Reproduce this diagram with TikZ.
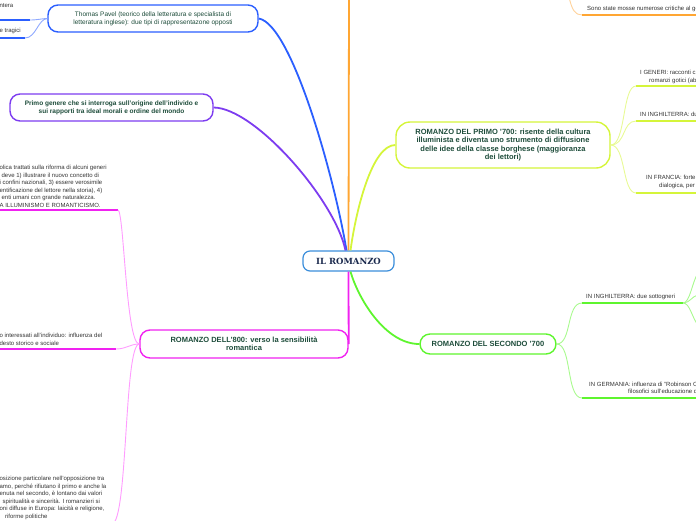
\documentclass[tikz,border=0pt]{standalone}
\usepackage{fontspec}
\setmainfont{Liberation Sans}
\newfontfamily\rootfont{DejaVu Serif}
\definecolor{RootBlue}{HTML}{3B8EDB}
\definecolor{RootInk}{HTML}{1B2A4E}
\definecolor{TopicInk}{HTML}{1E4D3B}
\definecolor{LeafInk}{HTML}{333333}
\definecolor{PavelBlue}{HTML}{2B5FFF}
\definecolor{PavelSoft}{HTML}{8FA9FF}
\definecolor{GenusPurple}{HTML}{7D3CF0}
\definecolor{CritOrange}{HTML}{FFA633}
\definecolor{CritSoft}{HTML}{FFD29A}
\definecolor{LimeYellow}{HTML}{D5F53A}
\definecolor{LimeSoft}{HTML}{E8FA95}
\definecolor{BrightGreen}{HTML}{5EF52E}
\definecolor{GreenSoft}{HTML}{A9FA8F}
\definecolor{Magenta}{HTML}{F022F0}
\definecolor{MagentaSoft}{HTML}{FF9CFF}
\usetikzlibrary{positioning}

\begin{document}
\begin{tikzpicture}[x=1pt,y=-1pt,
    topic/.style={draw,line width=1.4pt,rounded corners=10pt,fill=white,inner sep=0pt,align=center,text=TopicInk,font=\bfseries\fontsize{7.5}{8.3}\selectfont},
    leaf/.style={inner sep=0pt,align=left,anchor=west,text=LeafInk,font=\fontsize{6}{7.5}\selectfont},
    branch/.style={line width=1.8pt},
    twig/.style={line width=0.9pt},
    rule/.style={line width=2.4pt}
  ]
    \useasboundingbox (0,0) rectangle (696,520);
    \clip (0,0) rectangle (696,520);

    % main topics
    \node[draw=RootBlue,line width=1.2pt,rounded corners=7pt,fill=white,minimum width=91pt,minimum height=20pt,inner sep=0pt,text=RootInk,font=\rootfont\bfseries\fontsize{8.5}{10}\selectfont] (root) at (348.5,261) {IL ROMANZO};
    \node[topic,draw=PavelBlue,font=\fontsize{6.5}{8}\selectfont,minimum width=210pt,minimum height=27pt] (pavel) at (153,18.5) {Thomas Pavel (teorico della letteratura e specialista di\\letteratura inglese): due tipi di rappresentazone opposti};
    \node[topic,draw=GenusPurple,font=\bfseries\fontsize{6.5}{8}\selectfont,minimum width=203pt,minimum height=27pt] (genere) at (111.5,107.5) {Primo genere che si interroga sull'origine dell'individo e\\sui rapporti tra ideal morali e ordine del mondo};
    \node[topic,draw=LimeYellow,rounded corners=14pt,minimum width=214pt,minimum height=46pt] (primo) at (503,145) {ROMANZO DEL PRIMO '700: risente della cultura\\illuminista e diventa uno strumento di diffusione\\delle idee della classe borghese (maggioranza\\dei lettori)};
    \node[topic,draw=Magenta,minimum width=208pt,minimum height=28pt] (ottocento) at (244,344) {ROMANZO DELL'800: verso la sensibilità\\romantica};
    \node[topic,draw=BrightGreen,minimum width=136pt,minimum height=20pt] (secondo) at (488,344) {ROMANZO DEL SECONDO '700};

    % branches from the root
    \coordinate (critup) at (349,-4);
    \draw[branch,CritOrange] (root.north) -- (critup);
    \draw[branch,PavelBlue] ([xshift=-2pt]root.north) .. controls (335,180) and (292,24) .. (pavel.east);
    \draw[branch,GenusPurple] ([xshift=-3pt]root.north) .. controls (335,200) and (255,108) .. (genere.east);
    \draw[branch,LimeYellow] ([xshift=2pt]root.north) .. controls (356,210) and (372,145) .. (primo.west);
    \draw[branch,BrightGreen] ([xshift=2pt]root.south) .. controls (358,298) and (385,344) .. (secondo.west);
    \draw[branch,Magenta] (root.south) -- (ottocento.east);

    % Pavel leaves
    \node[leaf] (pv1) at (-0.6,5.5) {ntera};
    \node[leaf] (pv2) at (-0.6,31) {e tragici};
    \coordinate (pv1l) at (-3,20); \coordinate (pv1r) at (30,20);
    \coordinate (pv2l) at (-3,38); \coordinate (pv2r) at (25,38);
    \draw[rule,PavelBlue] (pv1l) -- (pv1r);
    \draw[rule,PavelBlue] (pv2l) -- (pv2r);
    \draw[twig,PavelSoft] (pv1r) .. controls (38,20) and (42,18.5) .. (pavel.west);
    \draw[twig,PavelSoft] (pv2r) .. controls (36,38) and (38,19) .. (pavel.west);

    % ottocento leaves
    \node[leaf] (ot1) at (-0.6,186.5) {olica trattati sulla riforma di alcuni generi\\\hspace*{2pt}deve 1) illustrare il nuovo concetto di\\i confini nazionali, 3) essere verosimile\\entificazione del lettore nella storia), 4)\\\hspace*{2pt}enti umani con grande naturalezza.\\A ILLUMINISMO E ROMANTICISMO.};
    \node[leaf] (ot2) at (-0.6,339.5) {o interessati all'individuo: influenza del\\desto storico e sociale};
    \node[leaf] (ot3) at (-0.6,498) {osizione particolare nell'opposizione tra\\amo, perché rifiutano il primo e anche la\\enuta nel secondo, è lontano dai valori\\\hspace*{3pt}spiritualità e sincerità. I romanzieri si\\oni diffuse in Europa: laicità e religione,\\\hspace*{5.5pt}riforme politiche};
    \coordinate (ot1l) at (-3,210); \coordinate (ot1r) at (118,210);
    \coordinate (ot2l) at (-3,349); \coordinate (ot2r) at (116,349);
    \coordinate (ot3l) at (-3,524); \coordinate (ot3r) at (112,524);
    \draw[rule,Magenta] (ot1l) -- (ot1r);
    \draw[rule,Magenta] (ot2l) -- (ot2r);
    \draw[rule,Magenta] (ot3l) -- (ot3r);
    \draw[twig,MagentaSoft] (ottocento.west) .. controls (126,344) and (124,211) .. (ot1r);
    \draw[twig,MagentaSoft] (ottocento.west) .. controls (130,344) and (126,349) .. (ot2r);
    \draw[twig,MagentaSoft] (ottocento.west) .. controls (124,344) and (128,522) .. (ot3r);

    % critiche leaf (topic above the page)
    \coordinate (critiche) at (569,-3);
    \coordinate (crl) at (582,15); \coordinate (crr) at (699,15);
    \draw[twig,CritSoft] (critiche) .. controls (572,10) and (575,15) .. (crl);
    \draw[rule,CritOrange] (crl) -- (crr);
    \node[leaf] (cr1) at (587,9) {Sono state mosse numerose critiche al ge};

    % primo '700 leaves
    \node[leaf] (pr1) at (640,77) {I GENERI: racconti c\\\hspace*{9pt}romanzi gotici (ab};
    \node[leaf] (pr2) at (640,114) {IN INGHILTERRA: du};
    \node[leaf] (pr3) at (646,182) {IN FRANCIA: forte\\\hspace*{13pt}dialogica, per};
    \coordinate (pr1l) at (636,86); \coordinate (pr1r) at (699,86);
    \coordinate (pr2l) at (636,121); \coordinate (pr2r) at (699,121);
    \coordinate (pr3l) at (636,193); \coordinate (pr3r) at (699,193);
    \draw[rule,LimeYellow] (pr1l) -- (pr1r);
    \draw[rule,LimeYellow] (pr2l) -- (pr2r);
    \draw[rule,LimeYellow] (pr3l) -- (pr3r);
    \draw[twig,LimeSoft] (primo.east) .. controls (626,145) and (622,86) .. (pr1l);
    \draw[twig,LimeSoft] (primo.east) .. controls (626,145) and (622,121) .. (pr2l);
    \draw[twig,LimeSoft] (primo.east) .. controls (626,145) and (622,193) .. (pr3l);

    % secondo '700 leaves
    \node[leaf] (se1) at (586,297) {IN INGHILTERRA: due sottogneri};
    \node[leaf] (se2) at (589,388) {IN GERMANIA: influenza di "Robinson C\\\hspace*{39pt}filosofici sull'educazione d};
    \coordinate (se1l) at (582,303); \coordinate (se1r) at (683,303);
    \coordinate (se2l) at (582,398); \coordinate (se2r) at (699,398);
    \draw[rule,BrightGreen] (se1l) -- (se1r);
    \draw[rule,BrightGreen] (se2l) -- (se2r);
    \draw[twig,GreenSoft] (secondo.east) .. controls (572,344) and (566,303) .. (se1l);
    \draw[twig,GreenSoft] (secondo.east) .. controls (572,344) and (566,398) .. (se2l);
    \coordinate (sea) at (698,273); \coordinate (seb) at (698,295); \coordinate (sec) at (698,325);
    \draw[twig,GreenSoft] (se1r) .. controls (690,303) and (692,282) .. (sea);
    \draw[twig,GreenSoft] (se1r) .. controls (690,303) and (692,296) .. (seb);
    \draw[twig,GreenSoft] (se1r) .. controls (690,303) and (692,318) .. (sec);
  \end{tikzpicture}
\end{document}
